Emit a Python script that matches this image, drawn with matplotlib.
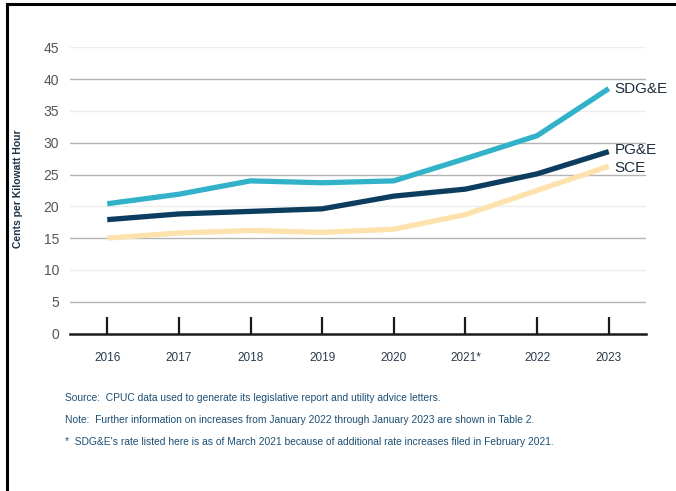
import matplotlib
matplotlib.use("Agg")
import matplotlib.pyplot as plt
from matplotlib.lines import Line2D

years = ["2016", "2017", "2018", "2019", "2020", "2021*", "2022", "2023"]
sdge = [20.4, 21.9, 24.0, 23.7, 24.0, 27.5, 31.1, 38.5]
pge = [17.9, 18.8, 19.2, 19.6, 21.6, 22.7, 25.1, 28.6]
sce = [15.0, 15.8, 16.2, 15.9, 16.4, 18.7, 22.5, 26.3]
series_names = ["SDG&E", "PG&E", "SCE"]
yticks = [0, 5, 10, 15, 20, 25, 30, 35, 40, 45]
notes = [
    "Source:  CPUC data used to generate its legislative report and utility advice letters.",
    "Note:  Further information on increases from January 2022 through January 2023 are shown in Table 2.",
    "*  SDG&E's rate listed here is as of March 2021 because of additional rate increases filed in February 2021.",
]

NARROW = ["Liberation Sans", "DejaVu Sans"]

W, H = 676, 491
fig = plt.figure(figsize=(W / 100, H / 100), dpi=100)
fig.patch.set_facecolor("white")

ax = fig.add_axes([70 / W, (H - 333.5) / H, 576 / W, 286.2 / H])
x = list(range(len(years)))

# gridlines
for v in yticks[1:]:
    c = "#eeeeee" if v in (45, 35, 20, 10) else "#b4b4b4"
    ax.axhline(v, color=c, lw=1.0, zorder=1)

colors = {"SDG&E": "#31b2c8", "PG&E": "#0c3d5e", "SCE": "#fde2ae"}
data = {"SDG&E": sdge, "PG&E": pge, "SCE": sce}
for name in ["SCE", "PG&E", "SDG&E"]:
    ax.plot(x, data[name], color=colors[name], lw=3.8, solid_capstyle="butt",
            solid_joinstyle="round", zorder=3)

offsets = {"SDG&E": 0, "PG&E": 1, "SCE": -1}
for name in series_names:
    ax.annotate(name, xy=(x[-1], data[name][-1]), xytext=(4, offsets[name]),
                textcoords="offset points", ha="left", va="center",
                fontsize=11, family=NARROW, color="#1c2b3a")

ax.set_xlim(-0.52, 7.52)
ax.set_ylim(0, 45)
ax.set_xticks(x)
ax.set_xticklabels(years, family=NARROW, fontsize=8.5, color="#2a3a4a")
ax.set_yticks(yticks)
ax.set_yticklabels([str(v) for v in yticks], family=NARROW, fontsize=10, color="#555555")
ax.tick_params(axis="x", direction="in", length=12, width=1.6, color="#1a1a1a", pad=13)
ax.tick_params(axis="y", length=0, pad=8)
for s in ["top", "right", "left"]:
    ax.spines[s].set_visible(False)
ax.spines["bottom"].set_color("#1a1a1a")
ax.spines["bottom"].set_linewidth(1.8)
ax.spines["bottom"].set_zorder(4)

ax.set_ylabel("Cents per Kilowatt Hour", family=NARROW, fontsize=7.5, fontweight="bold",
              color="#1f3346", va="center", ha="center")
ax.yaxis.set_label_coords((18 - 70) / 576, (333.5 - 189) / 286.2)

ys = [398, 420, 442]
for t, yy in zip(notes, ys):
    fig.text(65 / W, 1 - yy / H, t, ha="left", va="center", family=NARROW,
             fontsize=7.4, color="#1d4f74")

# frame lines (top and left)
fig.add_artist(Line2D([6.5 / W, 1], [1 - 4 / H, 1 - 4 / H], color="black", lw=2.2,
                      transform=fig.transFigure))
fig.add_artist(Line2D([6.5 / W, 6.5 / W], [0, 1 - 4 / H], color="black", lw=2.2,
                      transform=fig.transFigure))

fig.savefig("out.png", dpi=100)
